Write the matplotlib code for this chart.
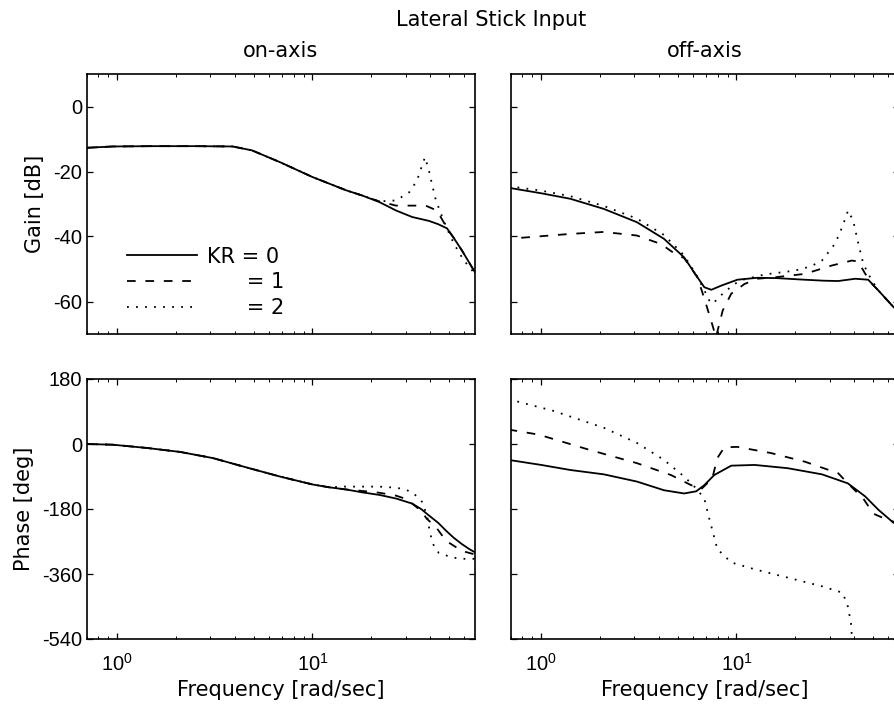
import matplotlib
matplotlib.use('Agg')
import matplotlib.pyplot as plt
from matplotlib.ticker import LogLocator, NullFormatter

plt.rcParams['font.family'] = ['Liberation Sans', 'DejaVu Sans']
plt.rcParams['mathtext.fontset'] = 'custom'
plt.rcParams['mathtext.rm'] = 'Liberation Sans'
plt.rcParams['axes.unicode_minus'] = False
plt.rcParams['font.size'] = 14.5

# ---- on-axis gain [dB]
f_on_g0 = [0.70, 0.95, 1.5, 2.5, 3.9, 4.9, 6.8, 10, 14.9, 18, 22, 26.8, 32.4, 39.5, 44, 48.9, 53, 58.3, 65.5, 68]
g_on_0 = [-12.7, -12.3, -12.2, -12.2, -12.3, -13.5, -17.1, -21.7, -25.8, -27.4, -29.4, -32.0, -34.0, -35.2, -36.2, -37.5, -40.5, -44.3, -49.4, -51.0]

f_on_g1 = [0.70, 0.95, 1.5, 2.5, 3.9, 4.9, 6.8, 10, 14.9, 18, 22, 26.8, 32, 38, 43.4, 47, 48.9, 53, 58.3, 65.5, 68]
g_on_1 = [-12.7, -12.3, -12.2, -12.2, -12.3, -13.5, -17.1, -21.7, -25.8, -27.4, -29.2, -30.5, -30.5, -30.5, -32.0, -35.6, -37.5, -40.5, -44.3, -49.4, -51.0]

f_on_g2 = [0.70, 0.95, 1.5, 2.5, 3.9, 4.9, 6.8, 10, 14.9, 18, 22, 26.8, 31.3, 34.3, 36.4, 37.7, 39.5, 40.9, 42.9, 45.5, 48.9, 53, 58.3, 61.6, 68]
g_on_2 = [-12.7, -12.3, -12.2, -12.2, -12.3, -13.5, -17.1, -21.7, -25.8, -27.4, -29.2, -28.9, -26.4, -22.8, -18.2, -15.6, -19.7, -23.8, -28.9, -33.0, -37.6, -42.2, -46.4, -48.4, -51.5]

# ---- off-axis gain [dB]
f_off_g0 = [0.68, 1.0, 1.41, 2.09, 3.09, 4.25, 5.39, 6.3, 6.84, 7.43, 8.37, 10.1, 12.8, 16, 22.4, 28, 33.2, 40.6, 47.3, 53.3, 63.7, 70]
g_off_0 = [-25.0, -26.7, -28.4, -31.5, -35.6, -40.7, -46.4, -52.5, -55.6, -56.4, -55.1, -53.3, -52.7, -52.8, -53.3, -53.6, -53.7, -53.0, -53.3, -56.6, -61.7, -64.0]

f_off_g1 = [0.79, 1.41, 2.09, 3.09, 4.1, 4.97, 5.39, 6.3, 6.84, 7.5, 7.85, 8.5, 9.4, 11, 12.8, 16, 22.4, 30.9, 39, 42, 45.7, 49.5, 53.3, 63.7, 70]
g_off_1 = [-40.4, -39.2, -38.6, -39.7, -42.3, -45.8, -46.6, -52.5, -59.0, -66.9, -71.0, -62.8, -57.6, -54.6, -53.0, -52.5, -51.5, -48.9, -47.4, -47.7, -51.5, -54.6, -56.6, -61.7, -64.0]

f_off_g2 = [0.68, 1.0, 1.41, 2.09, 3.09, 4.25, 5.39, 6.3, 6.84, 7.26, 7.55, 8.5, 9.77, 10.8, 13.9, 19.9, 24, 27.4, 32, 34.8, 37.3, 39.6, 42.1, 44.6, 47.3, 50, 53.3, 63.7, 70]
g_off_2 = [-24.5, -25.9, -27.6, -30.6, -34.5, -39.5, -45.8, -52.3, -56.5, -59.7, -60.7, -57.6, -54.6, -53.3, -51.7, -50.5, -49.2, -47.4, -42.2, -37.1, -32.0, -35.1, -42.2, -48.3, -51.5, -54.0, -56.6, -61.7, -64.0]

# ---- on-axis phase [deg]
f_on_p0 = [0.70, 0.95, 1.42, 2.1, 3.09, 4.6, 6.8, 10, 12.2, 14.9, 18, 22, 26.8, 32.4, 36, 39.5, 44, 48.3, 53, 58.2, 64, 68]
p_on_0 = [0, -2, -11, -22, -39, -65, -90, -112, -120, -126, -134, -141, -151, -165, -180, -198, -218, -240, -260, -277, -292, -300]

f_on_p1 = [0.70, 0.95, 1.42, 2.1, 3.09, 4.6, 6.8, 10, 12.2, 14.9, 18, 22, 26.8, 30, 32.4, 36, 38.5, 42.9, 48.3, 58.2, 68]
p_on_1 = [0, -2, -11, -22, -39, -65, -90, -112, -120, -126, -130, -135, -143, -152, -165, -185, -207, -230, -268, -296, -306]

f_on_p2 = [0.70, 0.95, 1.42, 2.1, 3.09, 4.6, 6.8, 10, 12.2, 14.2, 22, 26.8, 30, 33, 36.4, 38.6, 39.5, 40.9, 42.5, 44.5, 51.8, 58, 68]
p_on_2 = [0, -2, -11, -22, -39, -65, -90, -112, -120, -118, -118, -121, -126, -137, -160, -198, -230, -268, -290, -302, -314, -318, -318]

# ---- off-axis phase [deg]
f_off_p0 = [0.68, 1.0, 1.41, 2.09, 3.09, 4.25, 5.39, 6.22, 6.84, 7.69, 9.4, 12.4, 18.3, 27.4, 37.2, 45.6, 53.3, 63.7, 70]
p_off_0 = [-44, -58, -72, -84, -104, -128, -137, -131, -114, -86, -60, -58, -67, -84, -109, -145, -182, -218, -228]

f_off_p1 = [0.68, 0.97, 1.76, 3.09, 4.62, 5.86, 6.6, 7.52, 7.98, 8.67, 10.1, 15, 22.4, 33.2, 37.2, 44.6, 50.3, 59.3, 70]
p_off_1 = [40, 26, -16, -53, -86, -114, -125, -95, -39, -9, -8, -25, -49, -81, -109, -151, -193, -210, -222]

f_off_p2 = [0.68, 1.15, 2.09, 3.09, 4.25, 5.39, 6.22, 6.84, 7.26, 7.98, 9.4, 12.4, 18.3, 27.4, 35, 37.2, 38.6, 39, 39.3]
p_off_2 = [124, 92, 45, 3, -44, -90, -123, -151, -207, -291, -328, -347, -370, -394, -412, -450, -496, -534, -560]

labels = ['KR = 0', '      = 1', '      = 2']
styles = ['-', (0, (4.8, 5.4)), (0, (1, 4))]
lab_font = {'family': 'DejaVu Sans', 'size': 15}

fig = plt.figure(figsize=(8.94, 7.09), dpi=100)
W, H = 388 / 894, 260 / 709
ax_gon = fig.add_axes([87 / 894, 1 - 334 / 709, W, H])
ax_goff = fig.add_axes([511 / 894, 1 - 334 / 709, W, H])
ax_pon = fig.add_axes([87 / 894, 1 - 639 / 709, W, H])
ax_poff = fig.add_axes([511 / 894, 1 - 639 / 709, W, H])

def draw(ax, sets):
    lines = []
    for (f, v), ls, lab in zip(sets, styles, labels):
        ln, = ax.plot(f, v, color='black', linestyle=ls, lw=1.3, label=lab)
        lines.append(ln)
    return lines

lines = draw(ax_gon, [(f_on_g0, g_on_0), (f_on_g1, g_on_1), (f_on_g2, g_on_2)])
draw(ax_goff, [(f_off_g0, g_off_0), (f_off_g1, g_off_1), (f_off_g2, g_off_2)])
draw(ax_pon, [(f_on_p0, p_on_0), (f_on_p1, p_on_1), (f_on_p2, p_on_2)])
draw(ax_poff, [(f_off_p0, p_off_0), (f_off_p1, p_off_1), (f_off_p2, p_off_2)])

for ax in [ax_gon, ax_goff, ax_pon, ax_poff]:
    ax.set_xscale('log')
    ax.set_xlim(0.7, 68)
    ax.xaxis.set_major_locator(LogLocator(base=10))
    ax.xaxis.set_minor_locator(LogLocator(base=10, subs=range(2, 10)))
    ax.xaxis.set_minor_formatter(NullFormatter())
    ax.tick_params(which='both', direction='in', top=True, right=True)
    ax.tick_params(which='major', length=4, width=0.9, pad=3.5)
    ax.tick_params(which='minor', length=2, width=0.7)
    ax.tick_params(axis='x', which='major', pad=10)
    for s in ax.spines.values():
        s.set_linewidth(1.2)

for ax in [ax_gon, ax_goff]:
    ax.set_ylim(-70, 10)
    ax.set_yticks([-60, -40, -20, 0])
    ax.tick_params(axis='x', labelbottom=False)
for ax in [ax_pon, ax_poff]:
    ax.set_ylim(-540, 180)
    ax.set_yticks([-540, -360, -180, 0, 180])
    ax.set_xlabel('Frequency [rad/sec]', labelpad=4, fontdict=lab_font)
for ax in [ax_goff, ax_poff]:
    ax.tick_params(axis='y', labelleft=False)

ax_gon.set_ylabel('Gain [dB]', labelpad=6, fontdict=lab_font)
ax_pon.set_ylabel('Phase [deg]', labelpad=5.5, fontdict=lab_font)
ax_gon.set_title('on-axis', pad=12, fontdict=lab_font)
ax_goff.set_title('off-axis', pad=12, fontdict=lab_font)
fig.text(491 / 894, 1 - 20 / 709, 'Lateral Stick Input', ha='center', va='center', **lab_font)

ax_gon.legend(handles=lines, loc='upper left', bbox_to_anchor=(0.103, 0.336),
              frameon=False, handlelength=3.37, handletextpad=0.48, labelspacing=0.28,
              borderpad=0, borderaxespad=0, prop=lab_font)

fig.savefig('out.png', dpi=100)
